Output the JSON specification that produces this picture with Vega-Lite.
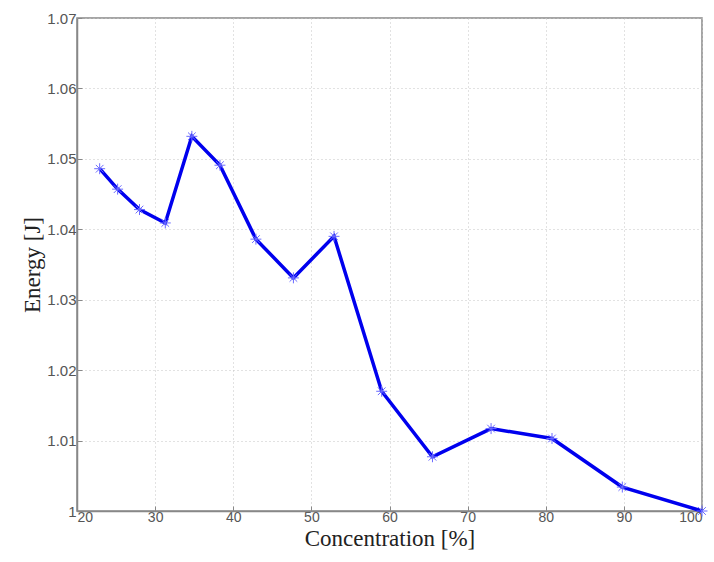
{
  "$schema": "https://vega.github.io/schema/vega-lite/v6.json",
  "autosize": "none",
  "width": 625,
  "height": 493,
  "padding": {"left": 77, "top": 18, "right": 12, "bottom": 51},
  "background": "white",
  "config": {
    "view": {"stroke": "#888888", "strokeWidth": 1.5},
    "axis": {
      "domainColor": "#888888",
      "domainWidth": 1.5,
      "gridColor": "#c4c4c4",
      "gridDash": [1, 3],
      "gridWidth": 1,
      "tickColor": "#888888",
      "tickSize": -5,
      "labelFont": "Liberation Sans",
      "labelFontSize": 14,
      "labelColor": "#555555",
      "titleFont": "Liberation Serif",
      "titleFontWeight": "normal",
      "titleColor": "#222222"
    }
  },
  "data": {
    "values": [
      {"c": 22.9, "e": 1.0486},
      {"c": 25.2, "e": 1.0457},
      {"c": 28.0, "e": 1.0428},
      {"c": 31.3, "e": 1.0409},
      {"c": 34.7, "e": 1.0532},
      {"c": 38.3, "e": 1.0491},
      {"c": 42.9, "e": 1.0386},
      {"c": 47.7, "e": 1.0331},
      {"c": 52.9, "e": 1.0390},
      {"c": 59.0, "e": 1.0170},
      {"c": 65.5, "e": 1.0077},
      {"c": 73.0, "e": 1.0117},
      {"c": 80.8, "e": 1.0103},
      {"c": 89.8, "e": 1.0034},
      {"c": 100.0, "e": 1.0000}
    ]
  },
  "encoding": {
    "x": {
      "field": "c",
      "type": "quantitative",
      "scale": {"domain": [20, 100], "nice": false, "zero": false},
      "axis": {"values": [20, 30, 40, 50, 60, 70, 80, 90, 100], "title": "Concentration [%]", "titleFontSize": 23, "titlePadding": 3, "labelPadding": 4}
    },
    "y": {
      "field": "e",
      "type": "quantitative",
      "scale": {"domain": [1, 1.07], "nice": false, "zero": false},
      "axis": {
        "values": [1, 1.01, 1.02, 1.03, 1.04, 1.05, 1.06, 1.07],
        "labelExpr": "datum.value == 1 ? '1' : format(datum.value, '.2f')",
        "labelFontSize": 15,
        "title": "Energy [J]",
        "titleFontSize": 23,
        "titlePadding": 2,
        "labelPadding": 6
      }
    }
  },
  "layer": [
    {"mark": {"type": "line", "color": "#0000ee", "strokeWidth": 3.5}},
    {"mark": {"type": "point", "shape": "M-1,0L1,0M0,-1L0,1M-0.7,-0.7L0.7,0.7M-0.7,0.7L0.7,-0.7", "filled": false, "color": "#6a6aff", "size": 120, "strokeWidth": 1, "opacity": 1}}
  ]
}
